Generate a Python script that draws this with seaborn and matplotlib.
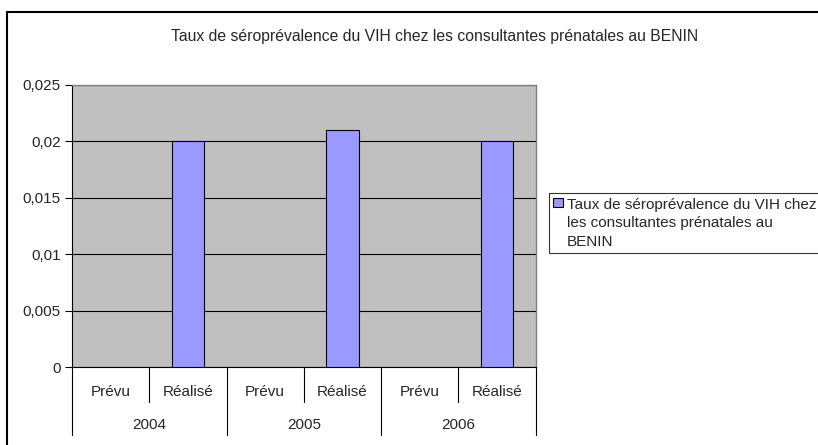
import matplotlib
matplotlib.use("Agg")
import matplotlib.pyplot as plt
import matplotlib.transforms as mtransforms
from matplotlib.patches import Rectangle, Patch
import numpy as np
import pandas as pd
import seaborn as sns

# data
years = ["2004", "2005", "2006"]
kinds = ["Prévu", "Réalisé"]
prevu = [np.nan, np.nan, np.nan]
realise = [0.020, 0.021, 0.020]
yticks = [0, 0.005, 0.01, 0.015, 0.02, 0.025]
ytick_labels = ["0", "0,005", "0,01", "0,015", "0,02", "0,025"]
title = "Taux de séroprévalence du VIH chez les consultantes prénatales au BENIN"
legend_label = "Taux de séroprévalence du VIH chez\nles consultantes prénatales au\nBENIN"

rows = []
for y, p, r in zip(years, prevu, realise):
    rows.append({"cat": y + " " + kinds[0], "val": p})
    rows.append({"cat": y + " " + kinds[1], "val": r})
df = pd.DataFrame(rows)

sns.set_style("white")
plt.rcParams['font.family'] = ['Liberation Sans', 'DejaVu Sans']
fs = 11

fig = plt.figure(figsize=(8.18, 4.45), dpi=100)
ax = fig.add_axes([0.088, 0.175, 0.567, 0.634])
ax.set_facecolor("#C0C0C0")

sns.barplot(data=df, x="cat", y="val", color="#9999FF", width=0.42,
            edgecolor="black", linewidth=0.8, saturation=1, ax=ax, zorder=3)

ax.set_ylim(0, 0.025)
ax.set_yticks(yticks)
ax.set_yticklabels(ytick_labels, fontsize=fs)
ax.yaxis.grid(True, color="black", linewidth=0.8, zorder=1)
ax.set_axisbelow(True)
ax.tick_params(axis="y", direction="out", length=5, width=0.8, color="black", left=True, pad=3)
ax.set_xticks(range(len(df)))
ax.set_xticklabels([])
ax.tick_params(axis="x", length=0)
ax.set_xlim(-0.5, len(df) - 0.5)
ax.set_xlabel("")
ax.set_ylabel("")
for s in ["top", "right"]:
    ax.spines[s].set_color("#808080")
    ax.spines[s].set_linewidth(1.0)
for s in ["left", "bottom"]:
    ax.spines[s].set_color("black")
    ax.spines[s].set_linewidth(0.8)

# two-level category axis
trans = mtransforms.blended_transform_factory(ax.transData, ax.transAxes)
n = len(df)
for i in range(n):
    ax.text(i, -0.089, kinds[i % 2], transform=trans, ha="center", va="center", fontsize=fs)
for j, y in enumerate(years):
    ax.text(2 * j + 0.5, -0.206, y, transform=trans, ha="center", va="center", fontsize=fs)
for b in range(n + 1):
    x = b - 0.5
    low = -0.241 if b % 2 == 0 else -0.124
    ax.plot([x, x], [0, low], transform=trans, color="black", lw=0.8, clip_on=False)

fig.text(0.531, 0.917, title, ha="center", va="center", fontsize=fs + 0.3)

handles = [Patch(facecolor="#9999FF", edgecolor="black", linewidth=0.8)]
leg = fig.legend(handles, [legend_label], loc="upper left", bbox_to_anchor=(0.671, 0.566),
                 fontsize=fs, frameon=True, fancybox=False, handlelength=0.6,
                 handleheight=0.6, handletextpad=0.3, borderpad=0.3, borderaxespad=0)
leg.get_frame().set_edgecolor("black")
leg.get_frame().set_linewidth(0.8)
for t in leg.get_texts():
    t.set_linespacing(1.4)
# put the marker next to the first line of the label
for col in leg._legend_handle_box.get_children():
    for row in col.get_children():
        row.align = "top"

# outer chart frame
fig.patches.append(Rectangle((0.0086, -0.1), 1.2, 1.073, transform=fig.transFigure,
                             fill=False, edgecolor="black", linewidth=1.5))

fig.savefig("out.png", dpi=100)
